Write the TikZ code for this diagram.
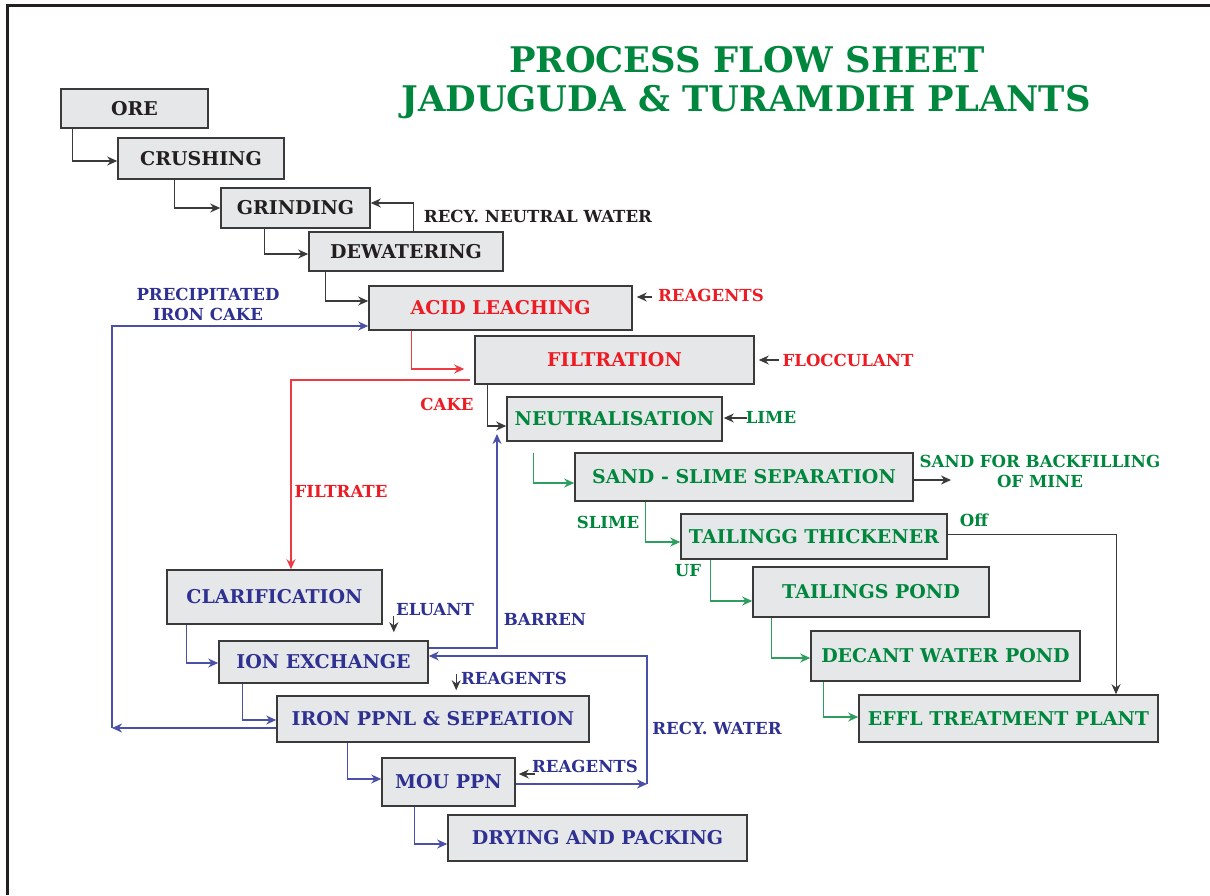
\documentclass[tikz,border=0pt]{standalone}
\usepackage{fontspec}
\setmainfont{DejaVu Serif}
\usetikzlibrary{arrows.meta,calc}
\definecolor{tgreen}{HTML}{00873E}
\definecolor{tred}{HTML}{ED1C24}
\definecolor{tblue}{HTML}{2E3192}
\definecolor{tblack}{HTML}{231F20}
\definecolor{lblue}{HTML}{4A4FA8}
\definecolor{lgreen}{HTML}{2E9E5E}
\definecolor{lred}{HTML}{EE3A43}
\definecolor{bfill}{HTML}{E6E7E8}
\definecolor{bline}{HTML}{3A3A3A}
\tikzset{
  box/.style={draw=bline, fill=bfill, line width=1.6pt, inner sep=0pt, font=\fontsize{19}{22}\selectfont\bfseries},
  lab/.style={inner sep=1pt, font=\fontsize{16.6}{20}\selectfont\bfseries},
  con/.style={line width=1.3pt, -{Stealth[length=10pt,width=9pt]}},
  kcon/.style={con, draw=bline},
  bcon/.style={con, draw=lblue},
  gcon/.style={con, draw=lgreen},
  rcon/.style={con, draw=lred},
}
\begin{document}
\begin{tikzpicture}[x=1pt,y=-1pt]
\useasboundingbox (0,0) rectangle (1210,895);
\fill[white] (0,0) rectangle (1210,895);
\draw[tblack, line width=3pt] (7,895) -- (7,5) -- (1210,5);
% title
\node[tgreen, font=\fontsize{35.3}{40}\selectfont\bfseries] (t1) at (747,60) {PROCESS FLOW SHEET};
\node[tgreen, font=\fontsize{35.3}{40}\selectfont\bfseries] (t2) at (746,102) {JADUGUDA \& TURAMDIH PLANTS};
% boxes
\node[box, text=tblack, minimum width=147pt, minimum height=39pt] (ore) at (134.5,108.5) {ORE};
\node[box, text=tblack, minimum width=166pt, minimum height=41pt] (crush) at (201,158.5) {CRUSHING};
\node[box, text=tblack, minimum width=149pt, minimum height=40pt] (grind) at (295.5,208) {GRINDING};
\node[box, text=tblack, minimum width=194pt, minimum height=39pt] (dew) at (406,251.5) {DEWATERING};
\node[box, text=tred, minimum width=263pt, minimum height=44pt] (acid) at (500.5,308) {ACID LEACHING};
\node[box, text=tred, minimum width=279pt, minimum height=48pt] (filt) at (614.5,360) {FILTRATION};
\node[box, text=tgreen, minimum width=215pt, minimum height=44pt] (neut) at (614.5,419) {NEUTRALISATION};
\node[box, text=tgreen, minimum width=338pt, minimum height=48pt] (sand) at (744,477) {SAND - SLIME SEPARATION};
\node[box, text=tgreen, minimum width=266pt, minimum height=45pt] (thick) at (814,536.5) {TAILINGG THICKENER};
\node[box, text=tgreen, minimum width=236pt, minimum height=50pt] (tpond) at (871,592) {TAILINGS POND};
\node[box, text=tgreen, minimum width=269pt, minimum height=50pt] (decant) at (945.5,656) {DECANT WATER POND};
\node[box, text=tgreen, minimum width=299pt, minimum height=47pt] (effl) at (1008.5,718.5) {EFFL TREATMENT PLANT};
\node[box, text=tblue, minimum width=215pt, minimum height=54pt] (clar) at (274.5,597) {CLARIFICATION};
\node[box, text=tblue, minimum width=209pt, minimum height=42pt] (ion) at (323.5,662) {ION EXCHANGE};
\node[box, text=tblue, minimum width=312pt, minimum height=46pt] (iron) at (433,719) {IRON PPNL \& SEPEATION};
\node[box, text=tblue, minimum width=133pt, minimum height=48pt] (mou) at (448.5,782) {MOU PPN};
\node[box, text=tblue, minimum width=299pt, minimum height=46pt] (dry) at (597.5,838) {DRYING AND PACKING};
% labels
\node[lab, text=tblack] (lrnw) at (538,216) {RECY. NEUTRAL WATER};
\node[lab, text=tred] (lreag1) at (711,295) {REAGENTS};
\node[lab, text=tred] (lfloc) at (848,360) {FLOCCULANT};
\node[lab, text=tgreen] (llime) at (771,417) {LIME};
\node[lab, text=tblue, align=center] (lpic) at (208,304) {PRECIPITATED\\IRON CAKE};
\node[lab, text=tred] (lcake) at (447,404) {CAKE};
\node[lab, text=tred] (lfiltrate) at (341,491) {FILTRATE};
\node[lab, text=tgreen, align=center] (lsand) at (1040,471) {SAND FOR BACKFILLING\\OF MINE};
\node[lab, text=tgreen] (lslime) at (608,522) {SLIME};
\node[lab, text=tgreen] (luf) at (688,571) {UF};
\node[lab, text=tgreen] (loff) at (974,520) {Off};
\node[lab, text=tblue] (leluant) at (435,610) {ELUANT};
\node[lab, text=tblue] (lbarren) at (545,619) {BARREN};
\node[lab, text=tblue] (lreag2) at (514,678) {REAGENTS};
\node[lab, text=tblue] (lreag3) at (585,766) {REAGENTS};
\node[lab, text=tblue] (lrw) at (717,728) {RECY. WATER};
% coordinates
\coordinate (pc) at (112,728);
\coordinate (bt) at (497,434);
\coordinate (sandout) at (951,480);
\coordinate (rw) at (647,784);
% black chain
\draw[kcon] ([xshift=12pt]ore.south west) |- ([yshift=-2.5pt]crush.west);
\draw[kcon] ([xshift=57pt]crush.south west) |- (grind.west);
\draw[kcon] ([xshift=44pt]grind.south west) |- ([yshift=-2.5pt]dew.west);
\draw[kcon] ([xshift=-90pt]dew.north east) |- ([yshift=5pt]grind.east);
\draw[kcon] ([xshift=17pt]dew.south west) |- ([yshift=7pt]acid.west);
\draw[kcon] ($(acid.east)+(19,-11)$) -- ($(acid.east)+(4,-11)$);
\draw[kcon] ($(filt.east)+(24,0)$) -- ($(filt.east)+(4,0)$);
\draw[kcon] ($(neut.east)+(24,-1)$) -- ($(neut.east)+(1,-1)$);
\draw[kcon] ([xshift=13pt]filt.south west) |- ([yshift=-7pt]neut.west);
% red
\draw[rcon] ([xshift=43pt]acid.south west) |- ([xshift=-10pt,yshift=-9pt]filt.west);
\draw[rcon] ([xshift=-4pt,yshift=-20pt]filt.west) -| ([xshift=16.5pt]clar.north);
% precipitated iron cake
\draw[bcon] ([yshift=-9pt]iron.west) -- (pc);
\draw[bcon] (pc) |- ([yshift=-18pt]acid.west);
% barren
\draw[bcon] ([yshift=14pt]ion.east) -| (bt);
% green chain
\draw[gcon] ($(neut.south west)+(27,11)$) |- ([yshift=-6pt]sand.west);
\draw[kcon] (sand.east |- sandout) -- (sandout);
\draw[gcon] ([xshift=71pt]sand.south west) |- ([yshift=-5.5pt]thick.west);
\draw[gcon] ([xshift=30pt]thick.south west) |- ([yshift=-9pt]tpond.west);
\draw[gcon] ([xshift=19pt]tpond.south west) |- ([yshift=-2pt]decant.west);
\draw[gcon] ([xshift=13pt]decant.south west) |- ([yshift=1.5pt]effl.west);
\draw[kcon, line width=1pt] ([yshift=2pt]thick.east) -| ([xshift=107.5pt]effl.north);
% blue chain
\draw[bcon] ([xshift=20pt]clar.south west) |- ([yshift=-1pt]ion.west);
\draw[kcon] ($(ion.north east)+(-35,-24)$) -- ($(ion.north east)+(-35,-8)$);
\draw[bcon] ([xshift=24pt]ion.south west) |- ([yshift=-1pt]iron.west);
\draw[kcon] ($(iron.north west)+(180,-21)$) -- ($(iron.north west)+(180,-5)$);
\draw[bcon] ([xshift=71pt]iron.south west) |- ([yshift=3pt]mou.west);
\draw[bcon] ([xshift=33pt]mou.south west) |- ([yshift=-6pt]dry.west);
\draw[kcon] ($(mou.east)+(19,-8)$) -- ($(mou.east)+(3,-8)$);
\draw[bcon] ([yshift=-2pt]mou.east) -- (rw);
\draw[bcon] (rw) |- ([yshift=6pt]ion.east);
\end{tikzpicture}
\end{document}
